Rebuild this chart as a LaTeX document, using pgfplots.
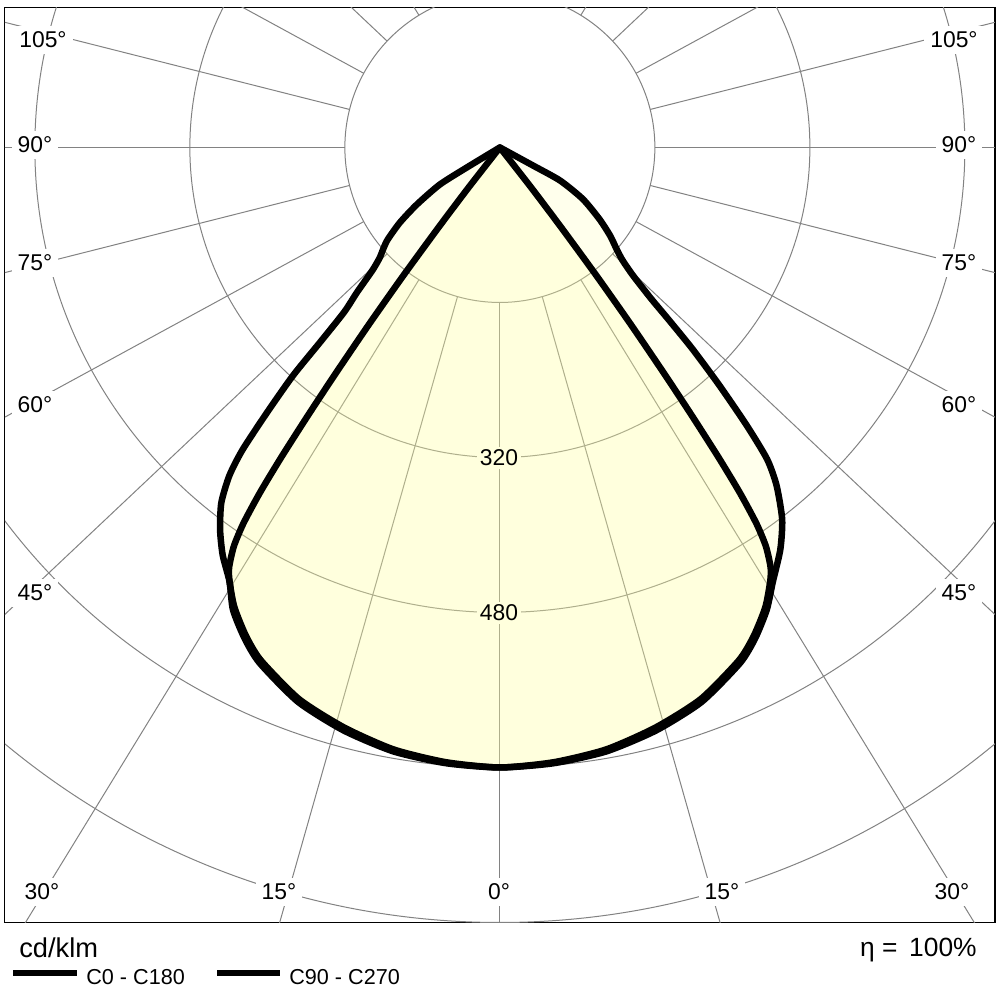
\documentclass[border=0pt]{standalone}
\usepackage{pgfplots}
\pgfplotsset{compat=1.18}
\usepackage{fontspec}
\setmainfont{Liberation Sans}
\definecolor{fillc}{RGB}{255,255,160}
\definecolor{gridc}{RGB}{130,130,130}
\definecolor{labbg}{RGB}{255,255,221}
\begin{document}
\begin{tikzpicture}[x=0.2mm,y=0.2mm]
\useasboundingbox (0,0) rectangle (1000,1000);
\begin{axis}[
  at={(5,80)}, anchor=south west,
  x=0.19375mm, y=0.19375mm,
  xmin=-510.97, xmax=510.97, ymin=-800, ymax=144.52,
  xtick=\empty, ytick=\empty,
  axis line style={black, line width=0.25mm},
  clip=true,
]
% grid circles
\foreach \r in {160,320,480,640,800}{
  \edef\tmp{\noexpand\draw[gridc, line width=0.2mm] (axis cs:0,0) circle[radius=\r];}\tmp
}
% radial lines
\pgfplotsinvokeforeach{-90,-105.86,-74.14,-121.47,-58.53,-136.67,-43.33,-151.42,-28.58,-165.81,-14.19,-180,0,165.81,14.19,151.42,28.58,136.67,43.33,121.47,58.53,105.86,74.14}{
  \draw[gridc, line width=0.2mm] (axis cs:{160*cos(#1)},{160*sin(#1)}) -- (axis cs:{1400*cos(#1)},{1400*sin(#1)});
}
% C0 - C180 fill
\addplot[data cs=polar, draw=none, fill=fillc, fill opacity=0.2, smooth, tension=0.4] coordinates {
(-180,0) (-148.8,40) (-148.3,73) (-145.5,104) (-143.1,129) (-140.6,150) (-138.9,160)
(-137.5,168) (-136.1,182) (-134.6,210) (-133.4,234) (-132.7,274) (-132.2,318) (-131.3,364)
(-130.4,410) (-129.5,439) (-128.1,466) (-126.2,489) (-124.2,509) (-121.9,528) (-120,551)
(-117.5,571) (-115,587) (-110,609) (-105,623) (-100,633) (-95,638) (-90,640) (-85,638)
(-80,633) (-75,623) (-70,609) (-65,587) (-62.5,571) (-60,551) (-57.9,530) (-55.1,506)
(-52.8,482) (-50.7,451) (-49.4,424) (-48.4,384) (-47.3,334) (-46.3,288) (-45.6,250)
(-45.0,221) (-43.9,191) (-42.6,172) (-41.1,160) (-38.7,146) (-35.8,127) (-31.9,101)
(-28.8,71) (-28.6,39) (0,0)
};
% C90 - C270 fill
\addplot[data cs=polar, draw=none, fill=fillc, fill opacity=0.2, smooth, tension=0.4] coordinates {
(-180,0) (-128,52) (-127.5,103) (-127,165) (-126.5,227) (-126,289) (-125.6,341) (-125.2,392)
(-124.8,434) (-124.3,470) (-123.7,495) (-122.8,516) (-121.9,528) (-120,548) (-117.5,568)
(-115,584) (-110,606) (-105,620) (-100,631) (-95,637) (-90,640) (-85,637) (-80,631)
(-75,620) (-70,606) (-65,584) (-62.5,568) (-60,548) (-58.1,528) (-57.2,516) (-56.3,495)
(-55.7,470) (-55.2,434) (-54.8,392) (-54.4,341) (-54,289) (-53.5,227) (-53,165) (-52.5,103)
(-52,52) (0,0)
};
% outlines
\addplot[data cs=polar, black, line width=1.3mm, line join=round, line cap=round, smooth, tension=0.4] coordinates {
(-180,0) (-148.8,40) (-148.3,73) (-145.5,104) (-143.1,129) (-140.6,150) (-138.9,160)
(-137.5,168) (-136.1,182) (-134.6,210) (-133.4,234) (-132.7,274) (-132.2,318) (-131.3,364)
(-130.4,410) (-129.5,439) (-128.1,466) (-126.2,489) (-124.2,509) (-121.9,528) (-120,551)
(-117.5,571) (-115,587) (-110,609) (-105,623) (-100,633) (-95,638) (-90,640) (-85,638)
(-80,633) (-75,623) (-70,609) (-65,587) (-62.5,571) (-60,551) (-57.9,530) (-55.1,506)
(-52.8,482) (-50.7,451) (-49.4,424) (-48.4,384) (-47.3,334) (-46.3,288) (-45.6,250)
(-45.0,221) (-43.9,191) (-42.6,172) (-41.1,160) (-38.7,146) (-35.8,127) (-31.9,101)
(-28.8,71) (-28.6,39) (0,0)
};
\addplot[data cs=polar, black, line width=1.3mm, line join=round, line cap=round, smooth, tension=0.4] coordinates {
(-180,0) (-128,52) (-127.5,103) (-127,165) (-126.5,227) (-126,289) (-125.6,341) (-125.2,392)
(-124.8,434) (-124.3,470) (-123.7,495) (-122.8,516) (-121.9,528) (-120,548) (-117.5,568)
(-115,584) (-110,606) (-105,620) (-100,631) (-95,637) (-90,640) (-85,637) (-80,631)
(-75,620) (-70,606) (-65,584) (-62.5,568) (-60,548) (-58.1,528) (-57.2,516) (-56.3,495)
(-55.7,470) (-55.2,434) (-54.8,392) (-54.4,341) (-54,289) (-53.5,227) (-53,165) (-52.5,103)
(-52,52) (0,0)
};
\end{axis}
% labels
\begin{scope}[every node/.style={font=\fontsize{13}{15}\selectfont, inner sep=1.2mm, fill=white}]
\node at (43,960) {105°};
\node at (954,960) {105°};
\node at (35,855) {90°};
\node at (959,855) {90°};
\node at (35,737) {75°};
\node at (959,737) {75°};
\node at (35,595) {60°};
\node at (959,595) {60°};
\node at (35,407) {45°};
\node at (959,407) {45°};
\node at (42,108) {30°};
\node at (952,108) {30°};
\node at (279,108) {15°};
\node at (722,108) {15°};
\node at (499,108) {0°};
\node[fill=labbg, inner sep=0.6mm] at (499,542) {320};
\node[fill=labbg, inner sep=0.6mm] at (499,387) {480};
\end{scope}
% legend
\node[anchor=base west, inner sep=0pt, font=\fontsize{15.5}{17}\selectfont] at (19,42) {cd/klm};
\draw[line width=1.2mm] (13,27) -- (77,27);
\node[anchor=base west, inner sep=0pt, font=\fontsize{12.3}{14}\selectfont] at (86,15) {C0 - C180};
\draw[line width=1.2mm] (217,27) -- (280,27);
\node[anchor=base west, inner sep=0pt, font=\fontsize{12.3}{14}\selectfont] at (289,15) {C90 - C270};
\node[anchor=base east, inner sep=0pt, font=\fontsize{15}{17}\selectfont] at (977,43) {η = \,100\%};
\end{tikzpicture}
\end{document}
